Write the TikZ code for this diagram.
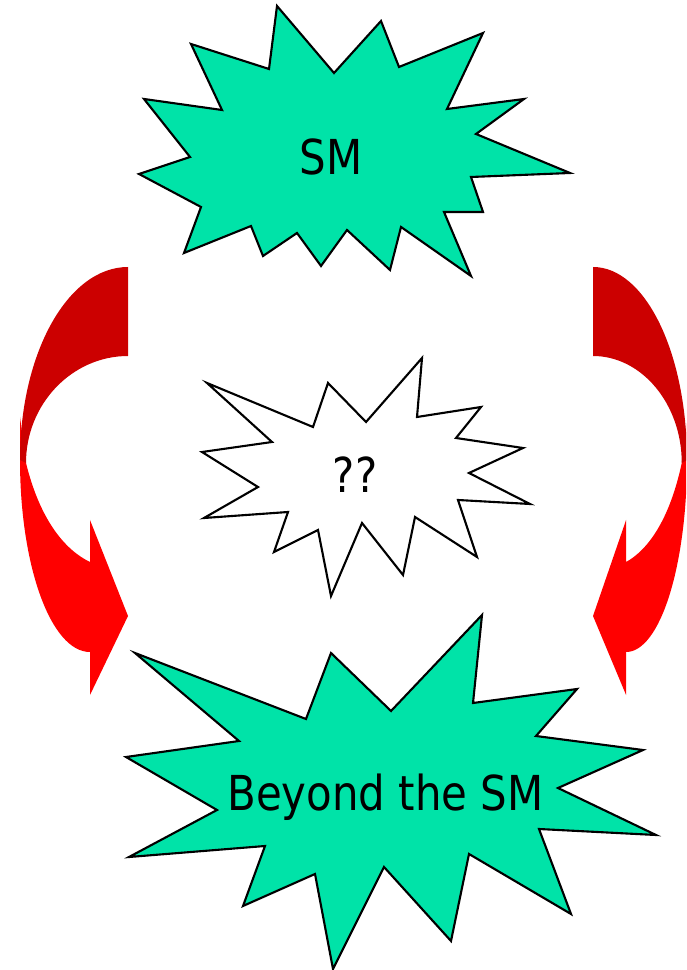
\documentclass[tikz,border=0pt]{standalone}
\usepackage{fontspec}
\setmainfont[FakeStretch=0.87]{DejaVu Sans}
\usepackage{tikz}
\definecolor{burstgreen}{HTML}{00E3A8}
\definecolor{backred}{HTML}{CC0000}
\definecolor{frontred}{HTML}{FF0000}
\tikzset{
    burst/.style={draw=black, line width=0.6pt, line join=miter},
    greenburst/.style={burst, fill=burstgreen},
    whiteburst/.style={burst, fill=white},
    backribbon/.style={fill=backred, draw=none},
    frontribbon/.style={fill=frontred, draw=none},
    bursttext/.style={anchor=base, inner sep=0pt, font=\fontsize{13.7pt}{16pt}\selectfont},
    pics/bentarrow/.style={code={
        % front half with the head
        \path[frontribbon] (-108,150) -- (-108,193)
            .. controls (-108,299) and (-77,385) .. (-38,385)
            -- (-38,428) -- (0,349) -- (-38,253) -- (-38,295)
            .. controls (-63,283) and (-88,253) .. (-102,196) -- cycle;
        % back half
        \path[backribbon] (0,0) .. controls (-60,0) and (-108,86) .. (-108,193)
            -- (-102,196) .. controls (-102,137) and (-56,89) .. (0,89) -- cycle;
    }},
}

\begin{document}
\begin{tikzpicture}[x=0.1mm, y=-0.1mm]
\useasboundingbox (0,0) rectangle (686,970);
\clip (0,0) rectangle (686,970);

% top burst
\draw[greenburst] (277,6) -- (334,73) -- (381,21) -- (399,67) -- (483,33)
    -- (447,109) -- (524,99) -- (476,134) -- (570,173) -- (471,177)
    -- (483,212) -- (444,212) -- (471,276) -- (401,227) -- (390,270)
    -- (347,230) -- (321,266) -- (297,233) -- (263,256) -- (251,226)
    -- (184,253) -- (201,207) -- (139,174) -- (190,157) -- (144,99)
    -- (222,110) -- (191,44) -- (269,69) -- cycle;
\node[bursttext] (sm) at (331,175) {SM};

% middle burst
\draw[whiteburst] (422,358) -- (417,417) -- (481,407) -- (456,438) -- (523,448)
    -- (469,473) -- (530,504) -- (458,500) -- (477,557) -- (415,517)
    -- (403,575) -- (362,523) -- (331,596) -- (318,530) -- (274,552)
    -- (288,512) -- (204,518) -- (258,487) -- (202,452) -- (272,442)
    -- (207,383) -- (313,427) -- (328,383) -- (366,422) -- cycle;
\node[bursttext] (unknown) at (355,493) {??};

% bottom burst
\draw[greenburst] (482,615) -- (473,703) -- (577,689) -- (536,736) -- (643,750)
    -- (558,788) -- (656,835) -- (539,829) -- (571,914) -- (469,854)
    -- (451,941) -- (384,867) -- (333,969) -- (315,874) -- (243,906)
    -- (265,846) -- (129,857) -- (217,810) -- (126,757) -- (239,741)
    -- (135,653) -- (306,719) -- (331,653) -- (391,711) -- cycle;
\node[bursttext] (bsm) at (385.5,810) {Beyond the SM};

% curved arrows
\pic[shift={(128,267)}] (leftarrow) {bentarrow};
\pic[shift={(593,267)}, xscale=-0.87] (rightarrow) {bentarrow};
\end{tikzpicture}
\end{document}
